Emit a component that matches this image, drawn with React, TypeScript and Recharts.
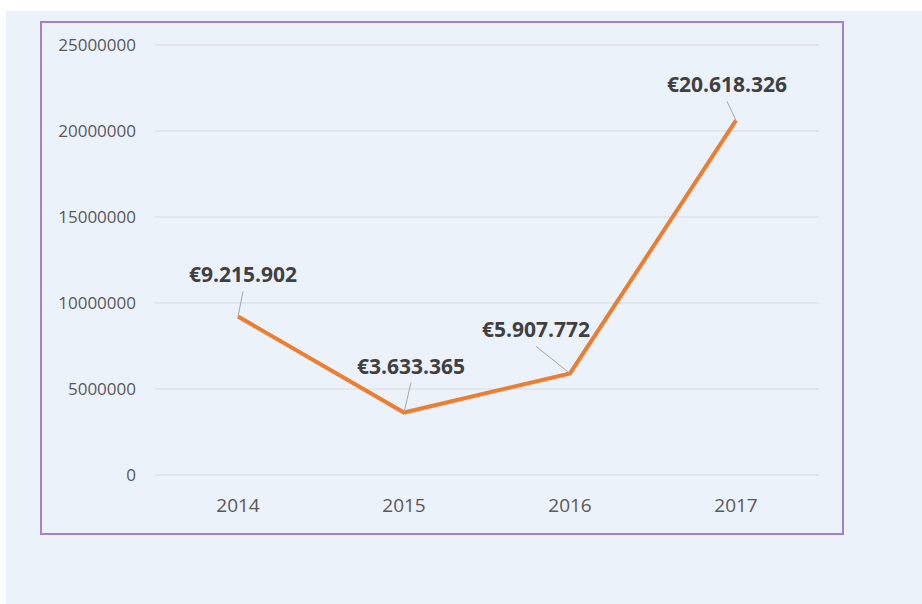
import React from "react";
import { LineChart, Line, XAxis, YAxis, CartesianGrid, LabelList } from "recharts";

const years = ["2014", "2015", "2016", "2017"];
const values = [9215902, 3633365, 5907772, 20618326];
const valueLabels = ["€9.215.902", "€3.633.365", "€5.907.772", "€20.618.326"];
const yTicks = [0, 5000000, 10000000, 15000000, 20000000, 25000000];

const data = years.map((y, i) => ({ year: y, value: values[i], label: valueLabels[i] }));

// label center offsets relative to the point (dx, baseline dy)
const labelOffsets = [
  { dx: 5, dy: -34 },
  { dx: 7, dy: -39 },
  { dx: -34, dy: -36 },
  { dx: -9, dy: -28 },
];

const FONT = "'Open Sans', sans-serif";

const DataLabel = (props: any) => {
  const { x, y, index } = props;
  const o = labelOffsets[index];
  const lx = x + o.dx;
  const ly = y + o.dy;
  return (
    <g>
      <line x1={x} y1={y} x2={lx} y2={ly + 9} stroke="#A6A6A6" strokeWidth={1} />
      <text
        x={lx}
        y={ly}
        textAnchor="middle"
        fontFamily={FONT}
        fontWeight={700}
        fontSize={21}
        fill="#404040"
      >
        {valueLabels[index]}
      </text>
    </g>
  );
};

export default function App() {
  return (
    <div style={{ position: "absolute", left: 0, top: 0, width: 922, height: 604 }}>
      <div
        style={{
          position: "absolute",
          left: 6,
          top: 11,
          width: 916,
          height: 593,
          background: "#ECF2FA",
        }}
      />
      <div
        style={{
          position: "absolute",
          left: 40,
          top: 21,
          width: 804,
          height: 514,
          border: "2px solid #A77FD1",
          boxSizing: "border-box",
        }}
      />
      <div style={{ position: "absolute", left: 0, top: 0 }}>
        <LineChart
          width={922}
          height={604}
          data={data}
          margin={{ top: 45, right: 103, bottom: 0, left: 0 }}
        >
          <CartesianGrid vertical={false} stroke="#D9D9D9" strokeWidth={1} />
          <XAxis
            dataKey="year"
            axisLine={false}
            tickLine={false}
            tickSize={0}
            tickMargin={24}
            height={129}
            padding={{ left: 83, right: 83 }}
            tick={{ fill: "#595959", fontSize: 19, fontFamily: FONT }}
          />
          <YAxis
            width={155}
            domain={[0, 25000000]}
            ticks={yTicks}
            interval={0}
            axisLine={false}
            tickLine={false}
            tickSize={0}
            tickMargin={19}
            tick={{ fill: "#595959", fontSize: 17, fontFamily: FONT }}
          />
          <Line
            type="linear"
            dataKey="value"
            stroke="#ED7D31"
            strokeWidth={4}
            dot={false}
            activeDot={false}
            isAnimationActive={false}
          >
            <LabelList dataKey="label" content={<DataLabel />} />
          </Line>
        </LineChart>
      </div>
    </div>
  );
}
